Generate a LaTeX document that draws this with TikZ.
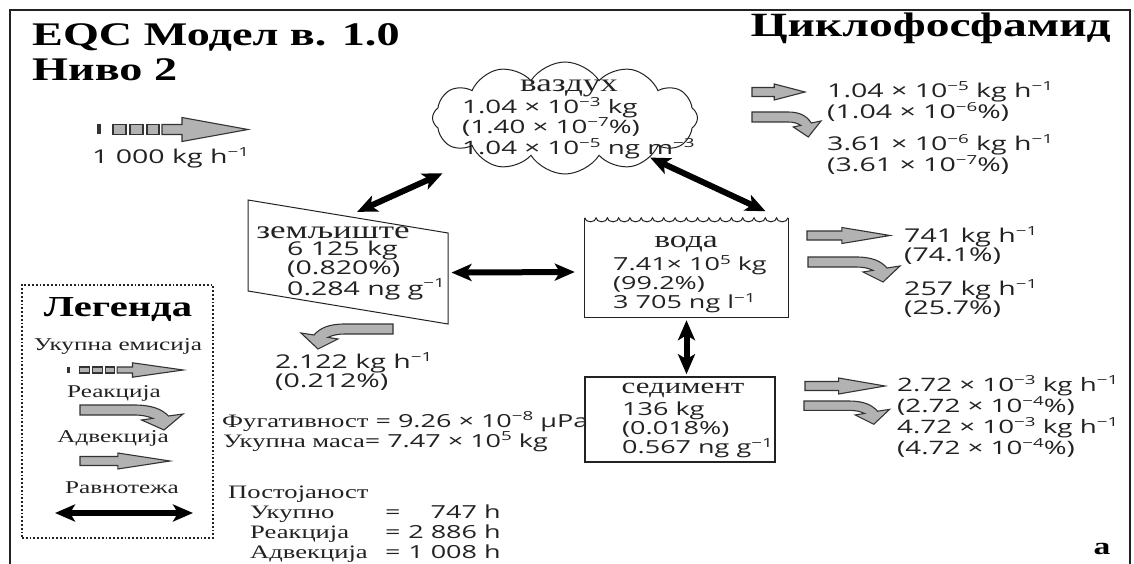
\documentclass[tikz,border=0pt]{standalone}
\usepackage{fontspec}
\setmainfont{Liberation Serif}[FakeStretch=1.4]
\setsansfont{Open Sans}[FakeStretch=1.5]
\usepackage{xcolor}
\usepackage{tikz}
\usetikzlibrary{arrows.meta,calc,positioning,shapes.symbols}
\definecolor{ink}{HTML}{222222}
\definecolor{flowfill}{HTML}{B2B2B2}
\definecolor{flowline}{HTML}{333333}
\newcommand{\fsz}[2]{\fontsize{#1}{#2}\selectfont}
\newcommand{\sups}[1]{\raisebox{0.38em}{\fsz{12.5}{12.5}#1}}

\begin{document}
\begin{tikzpicture}[x=1pt, y=-1pt,
    dat/.style={font=\sffamily\fsz{19}{20}, text=ink, align=left, inner sep=0pt, anchor=north west},
    cname/.style={font=\rmfamily\fsz{25}{26}, text=ink, inner sep=0pt, anchor=base},
    leg/.style={font=\rmfamily\fsz{18}{20}, text=ink, inner sep=0pt, anchor=base},
    head/.style={font=\rmfamily\bfseries\fsz{33}{36}, inner sep=0pt},
    flow/.style={draw=flowline, fill=flowfill, line width=1.1pt, line join=miter},
    equil/.style={{Stealth[length=20pt,width=17pt,inset=5pt]}-{Stealth[length=20pt,width=17pt,inset=5pt]}, line width=6pt},
    pics/emit/.style={code={
      \fill[flowline] (0,-5) rectangle (4,5);
      \foreach \xa/\xb in {16/29, 33/46, 50/62} \draw[flow] (\xa,-5) rectangle (\xb,5);
      \draw[flow] (65,-5) -- (85,-5) -- (85,-12) -- (151,0) -- (85,12) -- (85,5) -- (65,5) -- cycle;}},
    pics/advect/.style={code={
      \draw[flow] (0,-4.5) -- ({0.42*#1},-4.5) -- ({0.42*#1},-8) -- (#1,0) -- ({0.42*#1},8) -- ({0.42*#1},4.5) -- (0,4.5) -- cycle;}},
    pics/react/.style={code={
      \draw[flow] (0,0) -- (48,0) .. controls (64,0) and (73,4) .. (79,11) -- (92,9) -- (75,25) -- (55,15)
        -- (65,13.4) .. controls (60,11) and (55,10) .. (48,10) -- (0,10) -- cycle;}}]
  \useasboundingbox (0,0) rectangle (1134,564);
  \draw[ink, line width=2pt] (10,564) -- (10,10) -- (1130,10) -- (1130,564);

  \node[head, anchor=base west] (title) at (32,46) {EQC Модел в. 1.0};
  \node[head, anchor=base west] (level) at (32,81) {Ниво 2};
  \node[head, anchor=base east, font=\rmfamily\bfseries\fsz{34}{36}] (chem) at (1111,37) {Циклофосфамид};

  \pic at (97,129.5) {emit};
  \node[dat, anchor=base west] (emis) at (92,164) {1 000 kg h\sups{−1}};

  % compartments
  \node[cloud, draw=ink, line width=1pt, cloud puffs=12, cloud puff arc=115, cloud ignores aspect,
        minimum width=265pt, minimum height=112pt, inner sep=0pt] (air) at (565,118) {};
  \node[cname] (airname) at (569,92) {ваздух};
  \node[dat, font=\sffamily\fsz{18.5}{20.5}] (airdata) at (462,97) {1.04 × 10\sups{−3} kg\\(1.40 × 10\sups{−7}\%)\\1.04 × 10\sups{−5} ng m\sups{−3}};

  \node[draw=ink, line width=1pt, minimum width=200pt, minimum height=91pt, inner sep=0pt, yslant=-0.165] (soil) at (348,262) {};
  \node[cname] (soilname) at (333,238) {земљиште};
  \node[dat, font=\sffamily\fsz{19}{18}] (soildata) at (287,241) {6 125 kg\\(0.820\%)\\0.284 ng g\sups{−1}};

  \node[minimum width=203pt, minimum height=99pt, inner sep=0pt] (water) at (686.5,267.5) {};
  \draw[ink, line width=1pt] (water.north west) -- (water.south west) -- (water.south east) -- (water.north east);
  \draw[ink, line width=1pt] (water.north west) \foreach \i in {1,...,18} {arc[start angle=180, end angle=360, x radius=5.64pt, y radius=4pt]};
  \node[cname, font=\rmfamily\fsz{24}{26}] (watername) at (686,247) {вода};
  \node[dat, font=\sffamily\fsz{18}{17}] (waterdata) at (613,255) {7.41× 10\sups{5} kg\\(99.2\%)\\3 705 ng l\sups{−1}};

  \node[draw=ink, line width=1.6pt, minimum width=190pt, minimum height=85pt, inner sep=0pt] (sed) at (680,419.5) {};
  \node[cname, font=\rmfamily\fsz{22}{24}] (sedname) at (683,393) {седимент};
  \node[dat, font=\sffamily\fsz{18}{16.5}] (seddata) at (622,402) {136 kg\\(0.018\%)\\0.567 ng g\sups{−1}};

  % exchange
  \draw[equil, shorten <=10pt, shorten >=40pt] (soil.north) -- (air);
  \draw[equil, shorten >=25pt] (air) -- ([yshift=-4pt]water.north east);
  \draw[equil] ([shift={(3,-6)}]soil.east) -- ([shift={(-10,4.5)}]water.west);
  \draw[equil, shorten <=3pt, shorten >=2pt] (water.south) -- (water.south |- sed.north);

  % losses
  \pic at (752,92) {advect=53};
  \pic[xscale=0.75] at (752,112) {react};
  \node[dat, font=\sffamily\fsz{19}{21}] (airadvtxt) at (827,81) {1.04 × 10\sups{−5} kg h\sups{−1}\\(1.04 × 10\sups{−6}\%)};
  \node[dat, font=\sffamily\fsz{19}{21}] (airreatxt) at (827,134) {3.61 × 10\sups{−6} kg h\sups{−1}\\(3.61 × 10\sups{−7}\%)};

  \pic at (807,235.5) {advect=83};
  \pic at (808,257) {react};
  \node[dat, font=\sffamily\fsz{19}{19}] (wateradvtxt) at (904,226) {741 kg h\sups{−1}\\(74.1\%)};
  \node[dat, font=\sffamily\fsz{19}{18}] (waterreatxt) at (904,279) {257 kg h\sups{−1}\\(25.7\%)};

  \pic at (805,386) {advect=80};
  \pic[scale=0.93] at (804,401) {react};
  \node[dat, font=\sffamily\fsz{18.5}{17}] (sedadvtxt) at (897,375) {2.72 × 10\sups{−3} kg h\sups{−1}\\(2.72 × 10\sups{−4}\%)};
  \node[dat, font=\sffamily\fsz{18.5}{17}] (sedreatxt) at (897,417) {4.72 × 10\sups{−3} kg h\sups{−1}\\(4.72 × 10\sups{−4}\%)};

  \pic[xscale=-1] at (393,324) {react};
  \node[dat, font=\sffamily\fsz{19}{18}] (soilloss) at (275,352) {2.122 kg h\sups{−1}\\(0.212\%)};

  % legend
  \node[draw=ink, dotted, line width=1.8pt, minimum width=191pt, minimum height=253pt, inner sep=0pt] (legend) at (117.5,411.5) {};
  \node[head, anchor=base, font=\rmfamily\bfseries\fsz{29}{30}] (legtitle) at (118,316) {Легенда};
  \node[leg] (legemit) at (118,350) {Укупна емисија};
  \pic[xscale=0.77, yscale=0.6] at (67,370) {emit};
  \node[leg] (legreact) at (114,397) {Реакција};
  \pic[xscale=1.12] at (80,405) {react};
  \node[leg] (legadv) at (113,442) {Адвекција};
  \pic at (80,461) {advect=90};
  \node[leg] (legeq) at (122,493) {Равнотежа};
  \coordinate (eqleft) at (55,513);
  \coordinate (eqright) at (193,513);
  \draw[equil] (eqleft) -- (eqright);

  % totals
  \node[dat, anchor=base west, font=\sffamily\fsz{18}{20}] (fug) at (222,427) {\rmfamily\fsz{19}{20}Фугативност\sffamily\fsz{18}{20}{} = 9.26 × 10\sups{−8} µPa};
  \node[dat, anchor=base west, font=\sffamily\fsz{18}{20}] (mass) at (223,447) {\rmfamily\fsz{19}{20}Укупна маса\sffamily\fsz{18}{20}{}= 7.47 × 10\sups{5} kg};
  \node[anchor=north west, align=left, inner sep=0pt, text=ink, font=\rmfamily\fsz{19}{20}] (persist) at (228,485.5) {Постојаност\\
    \hspace*{22pt}\makebox[135pt][l]{Укупно}\textsf{\fsz{18}{20}=\makebox[100pt][r]{747 h}}\\
    \hspace*{22pt}\makebox[135pt][l]{Реакција}\textsf{\fsz{18}{20}=\makebox[100pt][r]{2 886 h}}\\
    \hspace*{22pt}\makebox[135pt][l]{Адвекција}\textsf{\fsz{18}{20}=\makebox[100pt][r]{1 008 h}}};

  \node[head, anchor=base, font=\rmfamily\bfseries\fsz{24}{26}] (panel) at (1102,554) {a};
\end{tikzpicture}
\end{document}
